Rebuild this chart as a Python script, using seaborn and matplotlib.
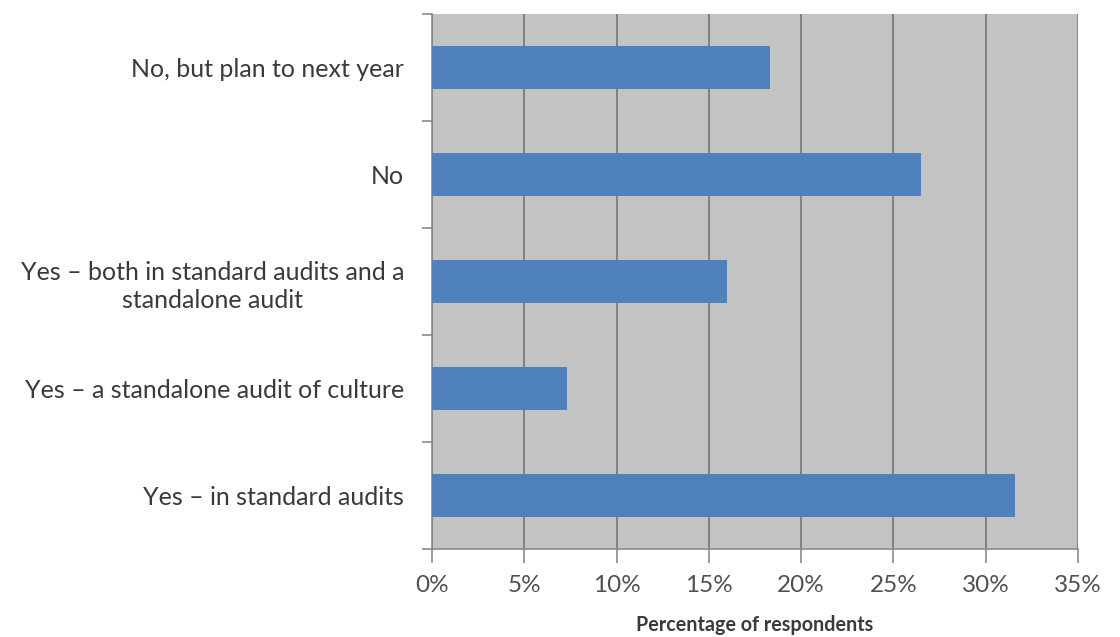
import matplotlib
matplotlib.use("Agg")
import matplotlib.pyplot as plt
import seaborn as sns
import pandas as pd
import numpy as np
from matplotlib.ticker import FixedLocator, FuncFormatter

categories = [
    "No, but plan to next year",
    "No",
    "Yes \u2013 both in standard audits and a\nstandalone audit",
    "Yes \u2013 a standalone audit of culture",
    "Yes \u2013 in standard audits",
]
values = [18.3, 26.5, 16.0, 7.3, 31.6]
xticks = [0, 5, 10, 15, 20, 25, 30, 35]
xlabel = "Percentage of respondents"

df = pd.DataFrame({"category": categories, "value": values})

sns.set_theme(style="white")
plt.rcParams["font.family"] = ["Lato", "DejaVu Sans"]

fig = plt.figure(figsize=(11.2, 6.37), dpi=100)
ax = fig.add_axes([432/1120, 1 - 549/637, (1078-432)/1120, (549-14)/637])
ax.set_facecolor("#c3c3c3")

sns.barplot(data=df, y="category", x="value", orient="h", color="#4f81bd",
            saturation=1, width=0.41, linewidth=0, ax=ax, zorder=3)

ax.set_xlim(0, 35)
ax.set_ylim(len(categories) - 0.5, -0.5)
ax.xaxis.set_major_locator(FixedLocator(xticks))
ax.xaxis.set_major_formatter(FuncFormatter(lambda v, p: f"{int(v)}%"))
ax.grid(axis="x", color="#7a7a7a", linewidth=1.3, zorder=0)
ax.set_axisbelow(True)

ax.yaxis.set_minor_locator(FixedLocator(np.arange(-0.5, len(categories), 1.0)))
ax.tick_params(axis="y", which="major", length=0, pad=20, labelsize=18, labelcolor="#3a3a3a")
ax.tick_params(axis="y", which="minor", length=7, color="#8a8a8a", width=1.2, left=True)
ax.tick_params(axis="x", which="major", length=10, color="#8a8a8a", width=1.2, bottom=True,
               pad=9, labelsize=17.5, labelcolor="#505050")
for lbl in ax.get_yticklabels():
    lbl.set_horizontalalignment("right")
    lbl.set_multialignment("center")
    lbl.set_linespacing(1.3)

for s in ["top", "right"]:
    ax.spines[s].set_visible(False)
for s in ["left", "bottom"]:
    ax.spines[s].set_color("#8a8a8a")
    ax.spines[s].set_linewidth(1.2)

ax.set_ylabel("")
ax.set_xlabel(xlabel, fontsize=14.2, fontweight="bold", color="#3a3a3a")
ax.xaxis.set_label_coords(0.5, -(625 - 549) / (549 - 14))
ax.xaxis.label.set_verticalalignment("center")

fig.savefig("out.png", dpi=100, facecolor="white")
